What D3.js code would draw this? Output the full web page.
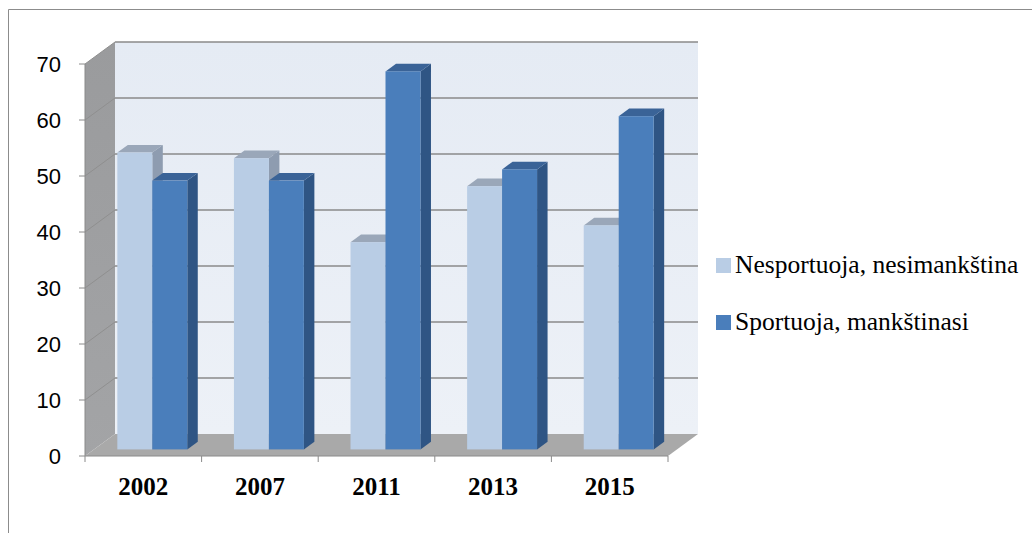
<!DOCTYPE html>
<html>
<head>
<meta charset="utf-8">
<script src="https://cdn.jsdelivr.net/npm/d3@7"></script>
<style>
  html, body { margin: 0; padding: 0; background: #ffffff; }
  svg { display: block; }
</style>
</head>
<body>
<svg id="chart" width="1032" height="533"></svg>
<script>
// Survey years and the two groups (percent of respondents)
const categories = ['2002', '2007', '2011', '2013', '2015'];
const seriesNames = ['Nesportuoja, nesimankština', 'Sportuoja, mankštinasi'];
const nesportuoja = [53, 52, 37, 47, 40];
const sportuoja = [48, 48, 67.5, 50, 59.5];
const yTicks = [0, 10, 20, 30, 40, 50, 60, 70];

const svg = d3.select('#chart');

// Outer frame
svg.append('path')
  .attr('d', 'M8.5,540 L8.5,9.5 L1040,9.5')
  .attr('fill', 'none').attr('stroke', '#8c8c8c').attr('stroke-width', 1);

// Plot geometry: front plane scales plus a depth offset for the 3D box
const x = d3.scaleBand().domain(categories).range([85, 668]);
const y = d3.scaleLinear().domain([0, 70]).range([456, 64]);
const DX = 30, DY = -22;            // full depth offset
const D0 = 0.3, D1 = 0.65;          // bar depth span (fraction of full depth)
const inner = d3.scaleBand().domain([0, 1]).range([0, x.bandwidth()]).paddingOuter(0.667);

const x0 = x.range()[0], x1 = x.range()[1];
const yTop = y(70), yBase = y(0);

const defs = svg.append('defs');
const wallGrad = defs.append('linearGradient').attr('id', 'wallGrad')
  .attr('x1', 0).attr('y1', 0).attr('x2', 0).attr('y2', 1);
wallGrad.append('stop').attr('offset', 0).attr('stop-color', '#e5ebf4');
wallGrad.append('stop').attr('offset', 1).attr('stop-color', '#edf1f7');
const sideGrad = defs.append('linearGradient').attr('id', 'sideGrad')
  .attr('x1', 0).attr('y1', 0).attr('x2', 0).attr('y2', 1);
sideGrad.append('stop').attr('offset', 0).attr('stop-color', '#9a9b9d');
sideGrad.append('stop').attr('offset', 1).attr('stop-color', '#a3a4a6');

const pt = (px, py) => px + ',' + py;

// Back wall
svg.append('polygon')
  .attr('points', [pt(x0 + DX, yTop + DY), pt(x1 + DX, yTop + DY), pt(x1 + DX, yBase + DY), pt(x0 + DX, yBase + DY)].join(' '))
  .attr('fill', 'url(#wallGrad)');

// Left side wall
svg.append('polygon')
  .attr('points', [pt(x0, yBase), pt(x0 + DX, yBase + DY), pt(x0 + DX, yTop + DY), pt(x0, yTop)].join(' '))
  .attr('fill', 'url(#sideGrad)');

// Floor
svg.append('polygon')
  .attr('points', [pt(x0, yBase), pt(x1, yBase), pt(x1 + DX, yBase + DY), pt(x0 + DX, yBase + DY)].join(' '))
  .attr('fill', '#a9a9a9');

// Gridlines on the back wall and the side wall
const grid = svg.append('g').attr('stroke', '#8a8a8a').attr('fill', 'none');
yTicks.filter(v => v > 0).forEach(v => {
  grid.append('line')
    .attr('x1', x0 + DX).attr('x2', x1 + DX)
    .attr('y1', y(v) + DY).attr('y2', y(v) + DY)
    .attr('stroke-width', 1.6);
  grid.append('line')
    .attr('x1', x0).attr('y1', y(v))
    .attr('x2', x0 + DX).attr('y2', y(v) + DY)
    .attr('stroke', '#8f8f8f').attr('stroke-width', 1);
});

// Bars drawn as boxes: side, top, front
const palette = [
  { front: '#b9cde5', side: '#8e9cb0', top: '#9aa7b9' },
  { front: '#4a7ebb', side: '#2f5584', top: '#3a6397' }
];
const seriesData = [nesportuoja, sportuoja];

const bars = svg.append('g');
categories.forEach((cat, i) => {
  [0, 1].forEach(s => {
    const v = seriesData[s][i];
    const c = palette[s];
    const bx0 = x(cat) + inner(s);
    const bx1 = bx0 + inner.bandwidth();
    const yt = y(v), yb = y(0);
    const fx0 = bx0 + D0 * DX, fx1 = bx1 + D0 * DX;
    const bx1b = bx1 + D1 * DX, bx0b = bx0 + D1 * DX;
    const oy0 = D0 * DY, oy1 = D1 * DY;
    // right side face
    bars.append('polygon')
      .attr('points', [pt(fx1, yt + oy0), pt(bx1b, yt + oy1), pt(bx1b, yb + oy1), pt(fx1, yb + oy0)].join(' '))
      .attr('fill', c.side);
    // top face
    bars.append('polygon')
      .attr('points', [pt(fx0, yt + oy0), pt(fx1, yt + oy0), pt(bx1b, yt + oy1), pt(bx0b, yt + oy1)].join(' '))
      .attr('fill', c.top);
    // front face
    bars.append('rect')
      .attr('x', fx0).attr('y', yt + oy0)
      .attr('width', fx1 - fx0).attr('height', yb - yt)
      .attr('fill', c.front);
  });
});

// Value axis
const axisColor = '#8a8a8a';
svg.append('line').attr('x1', x0).attr('x2', x0).attr('y1', yTop).attr('y2', yBase)
  .attr('stroke', axisColor).attr('stroke-width', 1);
const yAxis = svg.append('g');
yTicks.forEach(v => {
  yAxis.append('line').attr('x1', x0 - 6).attr('x2', x0).attr('y1', y(v)).attr('y2', y(v))
    .attr('stroke', axisColor).attr('stroke-width', 1);
  yAxis.append('text')
    .attr('x', 61).attr('y', y(v)).attr('dy', '0.36em')
    .attr('text-anchor', 'end')
    .attr('font-family', '"Liberation Sans", Arial, sans-serif')
    .attr('font-size', 22).attr('fill', '#000')
    .text(v);
});

// Category axis along the front edge of the floor
svg.append('line').attr('x1', x0).attr('x2', x1).attr('y1', yBase).attr('y2', yBase)
  .attr('stroke', axisColor).attr('stroke-width', 1);
const xAxis = svg.append('g');
const edges = categories.map(c => x(c)).concat([x1]);
edges.forEach(ex => {
  xAxis.append('line').attr('x1', ex).attr('x2', ex).attr('y1', yBase).attr('y2', yBase + 6)
    .attr('stroke', axisColor).attr('stroke-width', 1);
});
categories.forEach(cat => {
  xAxis.append('text')
    .attr('x', x(cat) + x.bandwidth() / 2).attr('y', 495)
    .attr('text-anchor', 'middle')
    .attr('font-family', '"Liberation Serif", "Times New Roman", serif')
    .attr('font-weight', 'bold').attr('font-size', 25).attr('fill', '#000')
    .text(cat);
});

// Legend
const legend = svg.append('g');
seriesNames.forEach((name, s) => {
  const ly = 265 + s * 57;
  legend.append('rect').attr('x', 716).attr('y', ly - 7).attr('width', 15).attr('height', 15)
    .attr('fill', palette[s].front);
  legend.append('text')
    .attr('x', 735).attr('y', ly + 8)
    .style('font-family', "'Liberation Serif', 'Times New Roman', serif")
    .attr('font-size', 25.5).attr('fill', '#000')
    .text(name);
});
</script>
</body>
</html>
